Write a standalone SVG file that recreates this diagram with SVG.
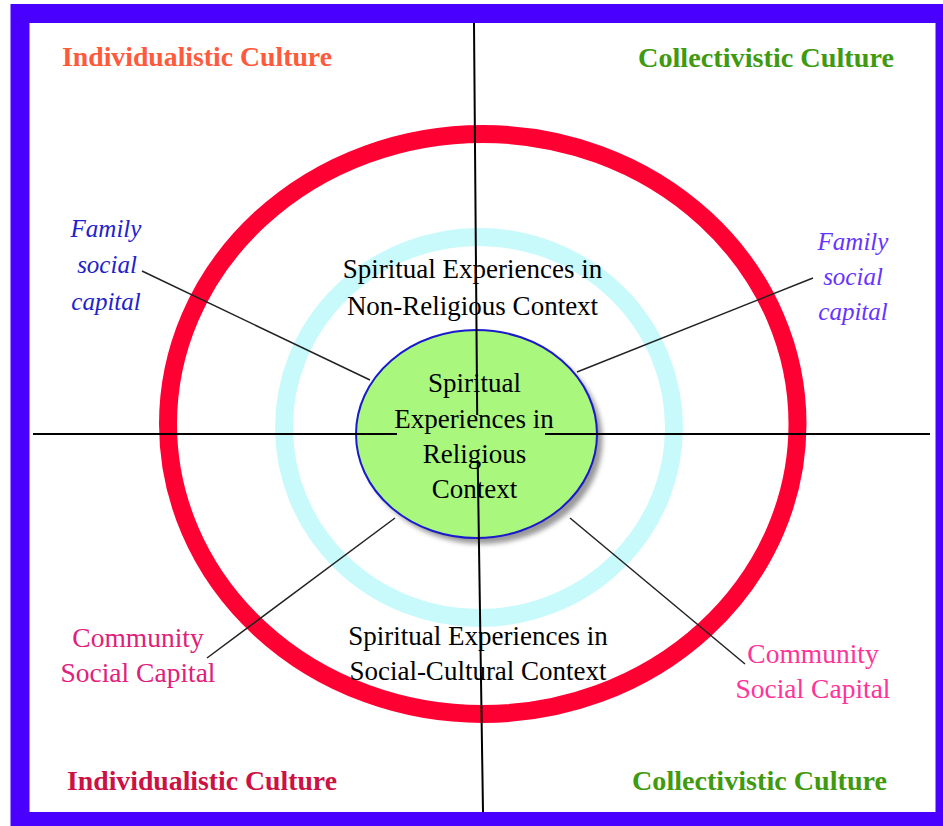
<svg xmlns="http://www.w3.org/2000/svg" width="943" height="826" viewBox="0 0 943 826">
<defs>
<style>
.t{font-family:"Liberation Serif","Times New Roman",serif;font-size:27px;fill:#000;text-anchor:middle}
.b{font-family:"Liberation Serif","Times New Roman",serif;font-size:27px;font-weight:bold;text-anchor:start}
.fam{font-family:"Liberation Serif","Times New Roman",serif;font-size:25px;font-style:italic;text-anchor:middle}
.com{font-family:"Liberation Serif","Times New Roman",serif;font-size:27.5px;text-anchor:middle}
.ax{stroke:#000;stroke-width:2;fill:none}
.ln{stroke:#222;stroke-width:1.5;fill:none}
</style>
<filter id="sh" x="-20%" y="-20%" width="140%" height="140%"><feGaussianBlur stdDeviation="2.5"/></filter>
</defs>
<rect x="0" y="0" width="943" height="826" fill="#fff"/>
<g id="frame"><rect x="20" y="13.5" width="925" height="808" fill="none" stroke="#4A00FF" stroke-width="19"/></g>
<g id="outer-ring"><ellipse cx="482.75" cy="424" rx="314.75" ry="290" fill="none" stroke="#FF0033" stroke-width="18"/></g>
<g id="middle-ring"><ellipse cx="479" cy="427.5" rx="195" ry="190.5" fill="none" stroke="#C8FAFC" stroke-width="18"/></g>
<g id="center">
<ellipse cx="482" cy="440" rx="120.5" ry="104" fill="#777" opacity="0.75" filter="url(#sh)"/>
<ellipse cx="476.5" cy="434" rx="120.5" ry="104" fill="#AAF77E" stroke="#1A1ACC" stroke-width="2"/>
</g>
<g id="connectors">
<path class="ax" d="M474,23 L477.2,415 M477.7,460 L483,812"/>
<path class="ax" d="M33,434 L397,434 M545,434 L930,434"/>
<line class="ln" x1="142" y1="271" x2="370" y2="380"/>
<line class="ln" x1="577" y1="372" x2="813" y2="278"/>
<line class="ln" x1="395" y1="518" x2="207" y2="658"/>
<line class="ln" x1="570" y1="518" x2="745" y2="664"/>
</g>
<g id="title-tl"><text class="b" x="62" y="66" fill="#FF5A3C" textLength="270" lengthAdjust="spacingAndGlyphs">Individualistic Culture</text></g>
<g id="title-tr"><text class="b" x="638" y="67" fill="#3F9A10" textLength="256" lengthAdjust="spacingAndGlyphs">Collectivistic Culture</text></g>
<g id="title-bl"><text class="b" x="67" y="790" fill="#CC1144" textLength="270" lengthAdjust="spacingAndGlyphs">Individualistic Culture</text></g>
<g id="title-br"><text class="b" x="632" y="790" fill="#3F9A10" textLength="255" lengthAdjust="spacingAndGlyphs">Collectivistic Culture</text></g>
<g id="family-left" fill="#2222CC"><text class="fam" x="106" y="237">Family</text><text class="fam" x="107" y="273">social</text><text class="fam" x="106" y="310">capital</text></g>
<g id="family-right" fill="#6633FF"><text class="fam" x="853" y="250">Family</text><text class="fam" x="853" y="285">social</text><text class="fam" x="853" y="320">capital</text></g>
<g id="community-left" fill="#E0207A"><text class="com" x="138" y="647">Community</text><text class="com" x="138" y="682">Social Capital</text></g>
<g id="community-right" fill="#FF3399"><text class="com" x="813" y="663">Community</text><text class="com" x="813" y="698">Social Capital</text></g>
<g id="non-religious"><text class="t" x="472.5" y="278">Spiritual Experiences in</text><text class="t" x="472.5" y="315">Non-Religious Context</text></g>
<g id="religious"><text class="t" x="474.5" y="392">Spiritual</text><text class="t" x="474" y="428">Experiences in</text><text class="t" x="474.5" y="463">Religious</text><text class="t" x="474.5" y="498">Context</text></g>
<g id="social-cultural"><text class="t" x="478" y="645">Spiritual Experiences in</text><text class="t" x="478" y="680">Social-Cultural Context</text></g>
</svg>
